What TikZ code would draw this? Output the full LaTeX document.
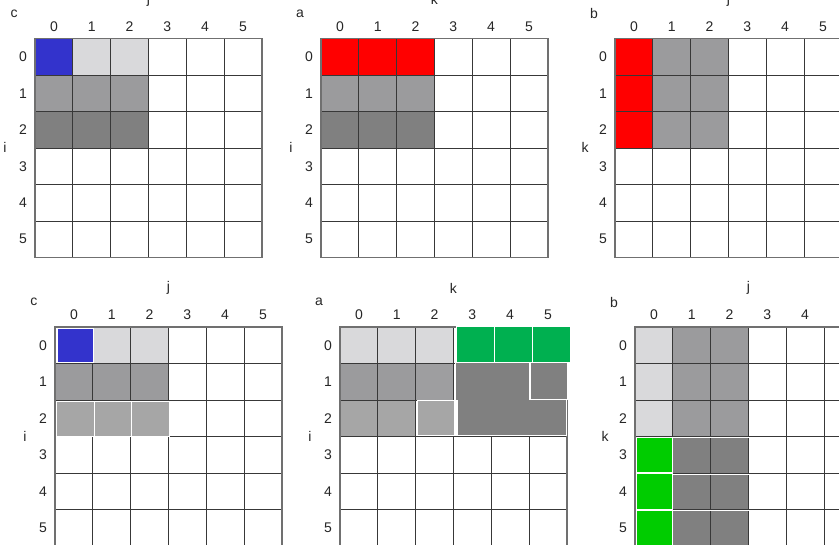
\documentclass[tikz,border=0pt]{standalone}
\usepackage{fontspec}
\setmainfont{Liberation Sans}
\definecolor{cblue}{HTML}{3333CC}
\definecolor{clight}{HTML}{D9D9DB}
\definecolor{cmed}{HTML}{9B9B9D}
\definecolor{cmedb}{HTML}{9E9EA0}
\definecolor{cdark}{HTML}{808080}
\definecolor{cmidtwo}{HTML}{A6A6A6}
\definecolor{cgreenA}{HTML}{00B050}
\definecolor{cgreenB}{HTML}{00CC00}
\definecolor{cred}{HTML}{FF0000}
\definecolor{gline}{HTML}{383838}
\definecolor{gborder}{HTML}{707070}
\tikzset{
  lab/.style={inner sep=0pt, font=\fontsize{14}{16}\selectfont, text=black!85},
  gl/.style={draw=gline, line width=0.9pt},
  gb/.style={draw=gborder, line width=1.6pt},
  ovl/.style={draw=white, line width=0.9pt},
}
% cell fill: origin x, origin y, row, col, colour
\newcommand\cellfill[5]{\fill[#5] (#1+#4*37.8, #2+#3*36.5) rectangle ++(37.8,36.5);}
% grid lines: origin x, origin y
\newcommand\gridlines[2]{%
  \foreach \k in {1,...,5}{%
    \draw[gl] (#1+\k*37.8,#2) -- (#1+\k*37.8,#2+219);
    \draw[gl] (#1,#2+\k*36.5) -- (#1+226.8,#2+\k*36.5);
  }
  \draw[gb] (#1,#2) rectangle (#1+226.8,#2+219);}
% labels: name, x, y, letter, column axis, row axis
\newcommand\gridlabels[6]{%
  \foreach \k in {0,...,5}{%
    \node[lab] (#1c\k) at (#2+\k*37.8+18.9,#3-12) {\k};
    \node[lab] (#1r\k) at (#2-12,#3+\k*36.5+18.25) {\k};
  }
  \node[lab] (#1name) at (#2-21,#3-25) {#4};
  \node[lab] (#1col) at (#2+113.4,#3-39) {#5};
  \node[lab] (#1row) at (#2-30,#3+109) {#6};}
\begin{document}
\begin{tikzpicture}[x=1pt,y=-1pt]
\useasboundingbox[fill=white] (0,0) rectangle (839,545);

% ---------- Grid 1: c (top left) ----------
\cellfill{35}{38.5}{0}{0}{cblue}
\cellfill{35}{38.5}{0}{1}{clight}
\cellfill{35}{38.5}{0}{2}{clight}
\foreach \c in {0,1,2}{\cellfill{35}{38.5}{1}{\c}{cmed}\cellfill{35}{38.5}{2}{\c}{cdark}}
\gridlines{35}{38.5}
\gridlabels{ga}{35}{38.5}{c}{j}{i}

% ---------- Grid 2: a (top middle) ----------
\foreach \c in {0,1,2}{\cellfill{321}{38.5}{0}{\c}{cred}\cellfill{321}{38.5}{1}{\c}{cmed}\cellfill{321}{38.5}{2}{\c}{cdark}}
\gridlines{321}{38.5}
\gridlabels{gb}{321}{38.5}{a}{k}{i}

% ---------- Grid 3: b (top right) ----------
\foreach \r in {0,1,2}{\cellfill{615}{38.5}{\r}{0}{cred}\cellfill{615}{38.5}{\r}{1}{cmed}\cellfill{615}{38.5}{\r}{2}{cmed}}
\gridlines{615}{38.5}
\gridlabels{gc}{615}{38.5}{b}{j}{k}

% ---------- Grid 4: c (bottom left) ----------
\cellfill{55}{327}{0}{1}{clight}
\cellfill{55}{327}{0}{2}{clight}
\foreach \c in {0,1,2}{\cellfill{55}{327}{1}{\c}{cmed}}
\gridlines{55}{327}
\filldraw[ovl, fill=cblue] (57,328) rectangle (93.8,362.5);
\foreach \c in {0,1,2}{\filldraw[ovl, fill=cmidtwo] (56.2+\c*37.8,401) rectangle ++(37.8,35.5);}
\gridlabels{gd}{55}{327}{c}{j}{i}

% ---------- Grid 5: a (bottom middle) ----------
\foreach \c in {0,1,2}{\cellfill{340}{327}{0}{\c}{clight}}
\cellfill{340}{327}{1}{0}{cmed}
\cellfill{340}{327}{1}{1}{cmed}
\cellfill{340}{327}{1}{2}{cmedb}
\cellfill{340}{327}{2}{0}{cmidtwo}
\cellfill{340}{327}{2}{1}{cmidtwo}
\gridlines{340}{327}
\foreach \c in {0,1,2}{\filldraw[ovl, fill=cgreenA] (456.8+\c*37.8,326.8) rectangle ++(37.8,35.3);}
\filldraw[ovl, fill=cdark] (455.5,362.8) -- (529.2,362.8) -- (529.2,399.5) -- (566.3,399.5)
  -- (566.3,435.3) -- (457.6,435.3) -- (457.6,400.5) -- (455.5,400.5) -- cycle;
\filldraw[ovl, fill=cdark] (530.6,362.8) rectangle (567.2,399.2);
\filldraw[ovl, fill=cmidtwo] (417.2,400.4) rectangle (454.2,435.3);
\gridlabels{ge}{340}{327}{a}{k}{i}

% ---------- Grid 6: b (bottom right) ----------
\foreach \r in {0,1,2}{\cellfill{635}{327}{\r}{0}{clight}\cellfill{635}{327}{\r}{1}{cmed}\cellfill{635}{327}{\r}{2}{cmed}}
\foreach \r in {3,4,5}{\cellfill{635}{327}{\r}{1}{cdark}\cellfill{635}{327}{\r}{2}{cdark}}
\gridlines{635}{327}
\foreach \r in {3,4,5}{%
  \filldraw[ovl, fill=cgreenB] (636.5,437.2+\r*36.5-109.5) rectangle ++(36.2,35.6);
  \draw[white, line width=0.7pt] (673,437.6+\r*36.5-109.5) -- ++(75.6,0);
}
\gridlabels{gf}{635}{327}{b}{j}{k}
\end{tikzpicture}
\end{document}
